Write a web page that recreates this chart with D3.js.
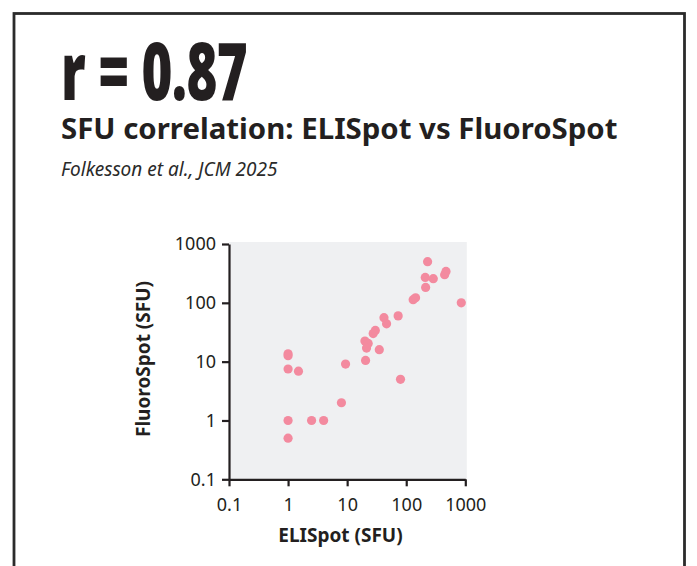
<!DOCTYPE html>
<html>
<head>
<meta charset="utf-8">
<script src="https://cdn.jsdelivr.net/npm/d3@7"></script>
<style>
  html, body { margin: 0; padding: 0; background: #ffffff; }
  svg { display: block; }
  text { font-family: "Noto Sans", "Open Sans", sans-serif; }
</style>
</head>
<body>
<svg id="chart" width="697" height="566"></svg>
<script>
// ---- Data ----
const elispot = [1, 1, 1, 1.5, 1, 1, 2.5, 4, 8, 9.4, 20.5, 20, 22.7, 21.3, 35, 27.6, 30, 42, 46.5, 73, 80, 131, 144, 213, 210, 287, 230, 447, 471, 855];
const fluorospot = [13.6, 12.6, 7.5, 6.9, 1, 0.5, 1, 1, 2, 9.1, 10.5, 22.4, 20.4, 17, 16, 30, 34, 56, 44, 60, 5, 113, 122, 183, 270, 257, 500, 300, 342, 100];
const tickValues = [0.1, 1, 10, 100, 1000];
const tickLabels = ["0.1", "1", "10", "100", "1000"];
const headline = "r = 0.87";
const title = "SFU correlation: ELISpot vs FluoroSpot";
const subtitle = "Folkesson et al., JCM 2025";
const xLabel = "ELISpot (SFU)";
const yLabel = "FluoroSpot (SFU)";

const points = elispot.map((e, i) => ({ x: e, y: fluorospot[i] }));

const svg = d3.select("#chart");
const ink = "#231f20";

// Card border
svg.append("rect")
  .attr("x", 14).attr("y", 13.5)
  .attr("width", 670.5).attr("height", 700)
  .attr("fill", "none")
  .attr("stroke", "#2b2b2b")
  .attr("stroke-width", 2.8);

// Headline (condensed look via horizontal scaling)
const head = svg.append("text")
  .attr("x", 0).attr("y", 0)
  .style("font-size", "80px")
  .style("font-weight", 900)
  .style("letter-spacing", "-1px")
  .attr("fill", ink)
  .text(headline);
const headW = head.node().getComputedTextLength();
const targetW = 186;
head.attr("transform", `translate(61,99.5) scale(${targetW / headW},1)`);

svg.append("text")
  .attr("x", 61).attr("y", 139)
  .style("font-size", "29.4px")
  .style("font-weight", 700)
  .attr("fill", ink)
  .text(title);

svg.append("text")
  .attr("x", 61).attr("y", 176)
  .style("font-size", "19px")
  .style("font-style", "italic")
  .attr("fill", "#2a2a2a")
  .text(subtitle);

// Scales
const x = d3.scaleLog().domain([0.1, 1000]).range([229, 465.3]);
const y = d3.scaleLog().domain([0.1, 1000]).range([479.3, 244]);

// Plot background
svg.append("rect")
  .attr("x", x(0.1)).attr("y", y(1000) - 2)
  .attr("width", x(1000) - x(0.1) + 1.5)
  .attr("height", y(0.1) - y(1000) + 2)
  .attr("fill", "#eff0f2");

// Points
svg.append("g")
  .selectAll("circle")
  .data(points)
  .join("circle")
  .attr("cx", d => x(d.x))
  .attr("cy", d => y(d.y))
  .attr("r", 4.6)
  .attr("fill", "#f38a9f");

// Axes
const fmt = d => tickLabels[tickValues.indexOf(d)];
const xAxis = svg.append("g")
  .attr("transform", `translate(0,${y(0.1)})`)
  .call(d3.axisBottom(x).tickValues(tickValues).tickFormat(fmt).tickSize(7).tickSizeOuter(0).tickPadding(12));
const yAxis = svg.append("g")
  .attr("transform", `translate(${x(0.1)},0)`)
  .call(d3.axisLeft(y).tickValues(tickValues).tickFormat(fmt).tickSize(7).tickSizeOuter(0).tickPadding(6));

[xAxis, yAxis].forEach(g => {
  g.select(".domain").attr("stroke", ink).attr("stroke-width", 2.2);
  g.selectAll(".tick line").attr("stroke", ink).attr("stroke-width", 2.2);
  g.selectAll(".tick text")
    .attr("fill", ink)
    .style("font-family", "'Noto Sans', sans-serif")
    .style("font-size", "18px");
});

// Axis titles
svg.append("text")
  .attr("x", 340.5)
  .attr("y", 542)
  .attr("text-anchor", "middle")
  .style("font-size", "19px")
  .style("font-weight", 700)
  .attr("fill", ink)
  .text(xLabel);

svg.append("text")
  .attr("transform", `translate(150,359) rotate(-90)`)
  .attr("text-anchor", "middle")
  .style("font-size", "19px")
  .style("font-weight", 700)
  .attr("fill", ink)
  .text(yLabel);
</script>
</body>
</html>
